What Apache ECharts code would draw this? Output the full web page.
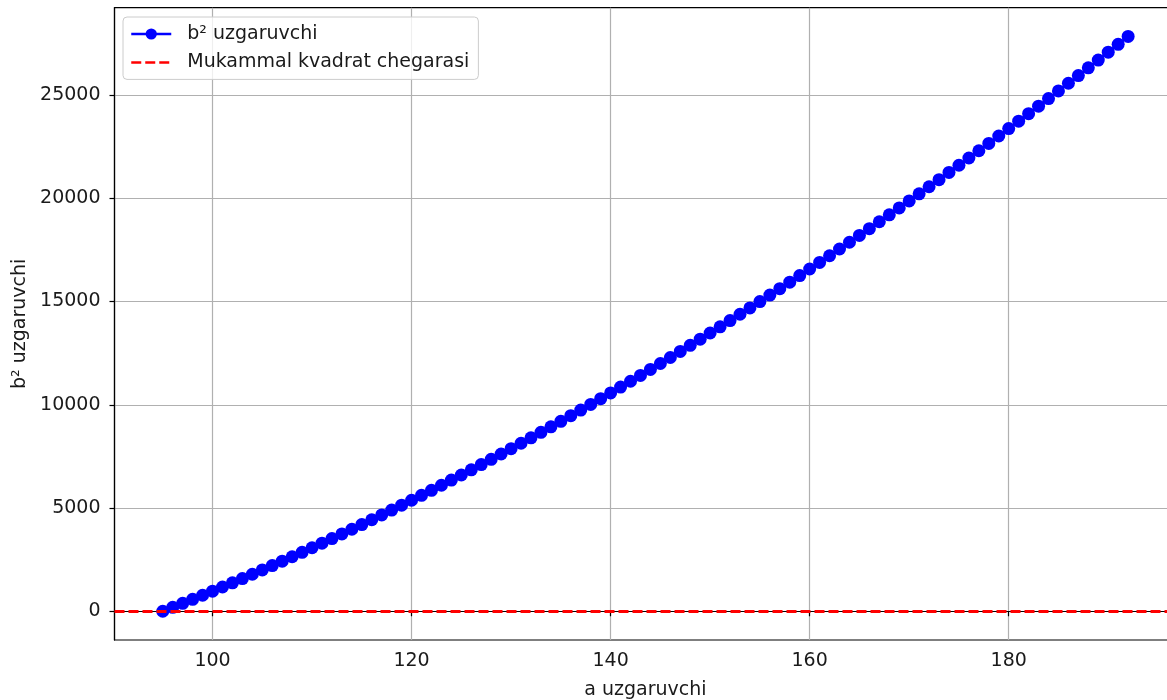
<!DOCTYPE html>
<html>
<head>
<meta charset="utf-8">
<script src="https://cdn.jsdelivr.net/npm/echarts@6/dist/echarts.min.js"></script>
<style>
html,body{margin:0;padding:0;background:#fff;}
#chart{width:1167px;height:700px;}
</style>
</head>
<body>
<div id="chart"></div>
<script>
// a values (x)
const aValues = [95,96,97,98,99,100,101,102,103,104,105,106,107,108,109,110,111,112,113,114,115,116,117,118,119,120,121,122,123,124,125,126,127,128,129,130,131,132,133,134,135,136,137,138,139,140,141,142,143,144,145,146,147,148,149,150,151,152,153,154,155,156,157,158,159,160,161,162,163,164,165,166,167,168,169,170,171,172,173,174,175,176,177,178,179,180,181,182,183,184,185,186,187,188,189,190,191,192];
// b² values (y)
const b2Values = [0,191,384,579,776,975,1176,1379,1584,1791,2000,2211,2424,2639,2856,3075,3296,3519,3744,3971,4200,4431,4664,4899,5136,5375,5616,5859,6104,6351,6600,6851,7104,7359,7616,7875,8136,8399,8664,8931,9200,9471,9744,10019,10296,10575,10856,11139,11424,11711,12000,12291,12584,12879,13176,13475,13776,14079,14384,14691,15000,15311,15624,15939,16256,16575,16896,17219,17544,17871,18200,18531,18864,19199,19536,19875,20216,20559,20904,21251,21600,21951,22304,22659,23016,23375,23736,24099,24464,24831,25200,25571,25944,26319,26696,27075,27456,27839];
// threshold line value
const thresholdValues = [0];
// tick labels
const xTicks = [100,120,140,160,180];
const yTicks = [0,5000,10000,15000,20000,25000];
const seriesNames = ['b² uzgaruvchi','Mukammal kvadrat chegarasi'];

const FONT = 'DejaVu Sans';
const FS = 19;
const chart = echarts.init(document.getElementById('chart'), null, {renderer:'canvas'});
const points = aValues.map((a,i)=>[a,b2Values[i]]);

chart.setOption({
  animation:false,
  backgroundColor:'#fff',
  textStyle:{fontFamily:FONT},
  grid:{left:114.5, top:7.7, right:-9.4, bottom:60, show:true, borderColor:'#000', borderWidth:1.2, backgroundColor:'transparent', outerBoundsMode:'none', containLabel:false},
  legend:{
    orient:'vertical', left:123, top:17,
    padding:[7,9,7,7], itemGap:8.4, itemWidth:40, itemHeight:14,
    backgroundColor:'rgba(255,255,255,0.8)', borderColor:'#cccccc', borderWidth:1, borderRadius:4,
    lineStyle:{width:2.5},
    textStyle:{fontFamily:FONT, fontSize:FS, color:'#1a1a1a', lineHeight:20, padding:[0,0,0,11]},
    data:[
      {name:seriesNames[0]},
      {name:seriesNames[1], itemStyle:{opacity:0}}
    ]
  },
  xAxis:{
    type:'value', min:90.15, max:196.85,
    name:'a uzgaruvchi', nameLocation:'middle', nameGap:41,
    nameTextStyle:{fontFamily:FONT, fontSize:FS, color:'#1a1a1a'},
    axisLine:{show:true, lineStyle:{color:'#000', width:1.2}},
    axisTick:{show:true, length:5, inside:false, lineStyle:{color:'#000', width:1.2}, customValues:xTicks},
    axisLabel:{fontFamily:FONT, fontSize:FS, color:'#1a1a1a', margin:12, customValues:xTicks, formatter:v=>String(v)},
    splitLine:{show:true, lineStyle:{color:'#b0b0b0', width:1.2}}
  },
  yAxis:{
    type:'value', min:-1391.95, max:29230.95,
    name:'b² uzgaruvchi', nameLocation:'middle', nameGap:84, nameRotate:90,
    nameTextStyle:{fontFamily:FONT, fontSize:FS, color:'#1a1a1a'},
    axisLine:{show:true, lineStyle:{color:'#000', width:1.2}},
    axisTick:{show:true, length:5, inside:false, lineStyle:{color:'#000', width:1.2}, customValues:yTicks},
    axisLabel:{fontFamily:FONT, fontSize:FS, color:'#1a1a1a', margin:14, customValues:yTicks, formatter:v=>String(v)},
    splitLine:{show:true, lineStyle:{color:'#b0b0b0', width:1.2}}
  },
  series:[
    {
      name:seriesNames[0], type:'line', data:points,
      symbol:'circle', symbolSize:13, showAllSymbol:true,
      itemStyle:{color:'#0000ff', borderWidth:0},
      lineStyle:{color:'#0000ff', width:2.5},
      emphasis:{disabled:true}, z:2
    },
    {
      name:seriesNames[1], type:'line', data:[],
      symbol:'none', showSymbol:false,
      itemStyle:{color:'#ff0000'},
      lineStyle:{color:'#ff0000', width:2.8, type:[10,4]},
      markLine:{
        silent:true, symbol:['none','none'], label:{show:false},
        lineStyle:{color:'#ff0000', width:2.8, type:[10,4]},
        emphasis:{disabled:true},
        data:thresholdValues.map(v=>({yAxis:v}))
      },
      z:3
    }
  ]
});
</script>
</body>
</html>
